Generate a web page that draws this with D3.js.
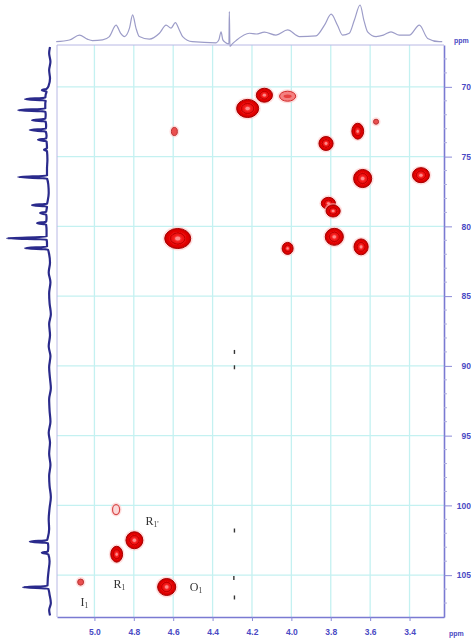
<!DOCTYPE html>
<html>
<head>
<meta charset="utf-8">
<script src="https://cdn.jsdelivr.net/npm/d3@7"></script>
<style>
  body { margin: 0; background: #fff; }
  svg { display: block; }
</style>
</head>
<body>
<div id="my_dataviz"><svg></svg></div>
<script>
// tick values
var xTicks = [5.0, 4.8, 4.6, 4.4, 4.2, 4.0, 3.8, 3.6, 3.4]
var yTicks = [70, 75, 80, 85, 90, 95, 100, 105]

// cross peaks: 1H ppm, 13C ppm, half widths (ppm), relative intensity
var peakH  = [4.594, 4.222, 4.137, 4.019, 3.824, 3.663, 3.570, 3.638, 3.342, 3.812, 3.788, 4.577, 4.019, 3.782, 3.646, 4.890, 4.797, 4.887, 5.070, 4.633]
var peakC  = [73.2, 71.55, 70.6, 70.67, 74.06, 73.18, 72.5, 76.57, 76.33, 78.35, 78.9, 80.87, 81.58, 80.75, 81.47, 100.3, 102.5, 103.5, 105.5, 105.85]
var peakWH = [0.015, 0.056, 0.041, 0.041, 0.036, 0.030, 0.013, 0.046, 0.043, 0.036, 0.036, 0.066, 0.028, 0.046, 0.036, 0.018, 0.043, 0.030, 0.015, 0.046]
var peakWC = [0.29, 0.65, 0.50, 0.36, 0.50, 0.57, 0.18, 0.65, 0.54, 0.43, 0.43, 0.72, 0.43, 0.61, 0.57, 0.36, 0.61, 0.57, 0.22, 0.61]
var peakI  = [0.25, 1.0, 0.85, 0.45, 0.8, 0.8, 0.2, 1.0, 0.9, 0.85, 0.85, 1.0, 0.75, 1.0, 0.9, 0.3, 1.0, 0.85, 0.25, 1.0]

// anomeric labels
var labelText = ["R", "R", "O", "I"]
var labelSub  = ["1'", "1", "1", "1"]
var labelH    = [4.707, 4.873, 4.484, 5.051]
var labelC    = [101.1, 105.6, 105.85, 106.9]

// t1 noise streak near 4.29 ppm
var streakH = [4.289, 4.289, 4.289, 4.292, 4.289]
var streakC = [89.0, 90.1, 101.8, 105.2, 106.6]

// 1H projection (top): ppm, intensity
var protonPpm = [5.194, 5.127, 5.076, 5.036, 5.010, 4.959, 4.924, 4.890, 4.868, 4.848, 4.822, 4.806, 4.789, 4.772, 4.721,
  4.670, 4.636, 4.611, 4.589, 4.569, 4.552, 4.503, 4.382, 4.368, 4.357, 4.348, 4.335, 4.317, 4.315, 4.312, 4.300, 4.281,
  4.213, 4.178, 4.137, 4.078, 4.019, 3.959, 3.875, 3.832, 3.798, 3.766, 3.740, 3.706, 3.680, 3.651, 3.632, 3.613, 3.570,
  3.533, 3.494, 3.452, 3.401, 3.350, 3.308, 3.249, 3.234]
var protonInt = [0, 4.6, 18, 7, 3, 5, 14, 45, 24, 14, 37, 73, 37, 14, 7,
  23, 45, 37, 52, 32, 14, 0, -3, 5, 27, 5, -2, -6, 82, -13, -6, 3,
  23, 21, 26, 18, 32, 14, 16, 45, 75, 45, 18, 23, 59, 100, 59, 27, 14,
  18, 27, 18, 18, 45, 9, 0, 0]

// 13C projection (left): ppm, intensity
var carbonPpm = [67.15, 67.6, 68.2, 68.8, 69.4, 69.9, 70.14, 70.24, 70.34, 70.55, 70.78, 70.88, 70.98, 71.2, 71.57, 71.67, 71.77,
  72.0, 72.29, 72.39, 72.49, 72.8, 73.0, 73.1, 73.2, 73.5, 73.7, 73.8, 73.9, 74.4, 74.5, 74.6, 75.2, 75.9, 76.37, 76.47, 76.57,
  77.0, 77.6, 78.1, 78.38, 78.48, 78.58, 78.8, 78.95, 79.05, 79.15, 79.4, 79.67, 79.77, 79.87, 80.3, 80.75, 80.85, 80.95, 81.2,
  81.46, 81.56, 81.66, 82.0, 82.6, 83.3, 84.0, 84.8, 85.5, 86.3, 87.0, 87.8, 88.6, 89.3, 90.1, 90.9, 91.6, 92.4, 93.2, 94.0,
  94.8, 95.5, 96.3, 97.1, 97.9, 98.6, 99.4, 100.2, 101.0, 101.7, 102.3, 102.5, 102.6, 102.7, 103.0, 103.3, 103.4, 103.5, 104.0,
  104.6, 105.2, 105.77, 105.87, 105.97, 106.4, 107.0, 107.5, 107.9]
var carbonInt = [0, 2, -1, 2, 0, 3, 8, 19, 8, 10, 11, 58, 10, 11, 11, 74, 11,
  10, 11, 42, 10, 9, 10, 47, 10, 8, 9, 28, 8, 7, 14, 7, 6, 7, 7, 74, 7,
  4, 3, 5, 7, 42, 7, 8, 9, 23, 9, 8, 9, 30, 9, 8, 8, 100, 8, 7,
  7, 58, 5, 2, 0, 3, -1, 2, 1, -2, 2, 0, 3, -1, 2, 0, -2, 2, 1, -1,
  3, 0, 2, -1, 2, 1, -2, 1, 3, 2, 5, 7, 47, 5, 4, 5, 19, 4, 1,
  3, 5, 6, 63, 4, 1, -2, 2, 0]

var svg = d3.select("#my_dataviz").select("svg")
    .attr("width", 471)
    .attr("height", 641)

var plotLeft = 57, plotRight = 444, plotTop = 45, plotBottom = 617

var x = d3.scaleLinear().domain([5.19, 3.225]).range([plotLeft, plotRight])
var y = d3.scaleLinear().domain([67, 108]).range([plotTop, plotBottom])

var defs = svg.append("defs")
defs.append("filter").attr("id", "soft")
    .attr("x", "-20%").attr("y", "-20%").attr("width", "140%").attr("height", "140%")
    .append("feGaussianBlur").attr("stdDeviation", 0.6)
defs.append("filter").attr("id", "soft2")
    .append("feGaussianBlur").attr("stdDeviation", 0.35)

var grad = defs.append("radialGradient").attr("id", "peakFill")
grad.append("stop").attr("offset", "0%").attr("stop-color", "#ff6a6a")
grad.append("stop").attr("offset", "35%").attr("stop-color", "#f41818")
grad.append("stop").attr("offset", "80%").attr("stop-color", "#e00000")
grad.append("stop").attr("offset", "100%").attr("stop-color", "#c40000")

// grid
var grid = svg.append("g")
grid.selectAll(".vgrid")
    .data(xTicks)
    .enter()
    .append("line")
    .attr("x1", function (d) { return x(d) })
    .attr("x2", function (d) { return x(d) })
    .attr("y1", plotTop)
    .attr("y2", plotBottom)
    .attr("stroke", "#c4f1f1")
    .attr("stroke-width", 1.3)
grid.selectAll(".hgrid")
    .data(yTicks)
    .enter()
    .append("line")
    .attr("x1", plotLeft)
    .attr("x2", plotRight)
    .attr("y1", function (d) { return y(d) })
    .attr("y2", function (d) { return y(d) })
    .attr("stroke", "#c4f1f1")
    .attr("stroke-width", 1.3)

// frame
svg.append("line").attr("x1", plotLeft).attr("x2", plotRight).attr("y1", plotTop).attr("y2", plotTop)
    .attr("stroke", "#b8b8e4").attr("stroke-width", 1)
svg.append("line").attr("x1", plotLeft).attr("x2", plotLeft).attr("y1", plotTop).attr("y2", plotBottom)
    .attr("stroke", "#b8b8e4").attr("stroke-width", 1)

// axes
var xAxis = svg.append("g")
    .attr("transform", "translate(0," + plotBottom + ")")
    .call(d3.axisBottom(x).tickValues(xTicks).tickFormat(d3.format(".1f"))
        .tickSize(4).tickSizeOuter(0).tickPadding(8))
var yAxis = svg.append("g")
    .attr("transform", "translate(" + plotRight + ",0)")
    .call(d3.axisRight(y).tickValues(yTicks).tickSize(8).tickSizeOuter(0))

// minor ticks on the 13C axis
yAxis.selectAll(".minor")
    .data(d3.range(68, 108, 1).filter(function (d) { return d % 5 != 0 }))
    .enter()
    .append("line")
    .attr("x1", 0).attr("x2", 3)
    .attr("y1", function (d) { return y(d) })
    .attr("y2", function (d) { return y(d) })
    .attr("stroke", "#b0b0e0")

;[xAxis, yAxis].forEach(function (a) {
    a.select(".domain").attr("stroke", "#7a7ad2").attr("stroke-width", 1.6)
    a.selectAll(".tick line").attr("stroke", "#8a8ad8")
    a.selectAll("text")
        .attr("fill", "#4a4ac4")
        .style("font-family", "Liberation Sans, Arial, sans-serif")
        .style("font-size", "8.5px")
        .style("font-weight", "bold")
})
yAxis.selectAll(".tick text")
    .attr("x", 27)
    .attr("text-anchor", "end")

svg.append("text")
    .attr("x", 449).attr("y", 636)
    .attr("fill", "#4a4ac4")
    .style("font-family", "Liberation Sans, Arial, sans-serif")
    .style("font-size", "7px").style("font-weight", "bold")
    .text("ppm")
svg.append("text")
    .attr("x", 454).attr("y", 43)
    .attr("fill", "#4a4ac4")
    .style("font-family", "Liberation Sans, Arial, sans-serif")
    .style("font-size", "7px").style("font-weight", "bold")
    .text("ppm")

// 1H projection
var topY = d3.scaleLinear().domain([0, 100]).range([41.7, 5])
var protonLine = d3.line()
    .x(function (d, i) { return x(protonPpm[i]) })
    .y(function (d, i) { return topY(protonInt[i]) })
    .curve(d3.curveMonotoneX)
svg.append("path")
    .attr("d", protonLine(protonPpm))
    .attr("fill", "none")
    .attr("stroke", "#9c9cc8")
    .attr("stroke-width", 1.2)
    .attr("filter", "url(#soft2)")

// 13C projection
var leftX = d3.scaleLinear().domain([0, 100]).range([50, 7])
var carbonLine = d3.line()
    .x(function (d, i) { return leftX(carbonInt[i]) })
    .y(function (d, i) { return y(carbonPpm[i]) })
    .curve(d3.curveMonotoneY)
svg.append("path")
    .attr("d", carbonLine(carbonPpm))
    .attr("fill", "none")
    .attr("stroke", "#2c2c8c")
    .attr("stroke-width", 2.2)
    .attr("filter", "url(#soft2)")

// t1 streak marks
svg.selectAll(".streak")
    .data(streakH)
    .enter()
    .append("line")
    .attr("x1", function (d) { return x(d) })
    .attr("x2", function (d) { return x(d) })
    .attr("y1", function (d, i) { return y(streakC[i]) - 2 })
    .attr("y2", function (d, i) { return y(streakC[i]) + 2 })
    .attr("stroke", "#333")
    .attr("stroke-width", 1.4)

// cross peaks
var peaks = svg.append("g").attr("filter", "url(#soft)")
peakH.forEach(function (h, i) {
    var cx = x(h), cy = y(peakC[i])
    var rx = x(h - peakWH[i]) - cx
    var ry = y(peakC[i] + peakWC[i]) - cy
    var g = peaks.append("g")
    g.append("ellipse")
        .attr("cx", cx).attr("cy", cy)
        .attr("rx", rx + 2).attr("ry", ry + 2)
        .attr("fill", "#ffc4c4").attr("opacity", 0.55)
    if (peakI[i] >= 0.7) {
        g.append("ellipse")
            .attr("cx", cx).attr("cy", cy).attr("rx", rx).attr("ry", ry)
            .attr("fill", "url(#peakFill)")
            .attr("stroke", "#a80000").attr("stroke-width", 1)
        g.append("ellipse")
            .attr("cx", cx).attr("cy", cy).attr("rx", rx * 0.55).attr("ry", ry * 0.55)
            .attr("fill", "none")
            .attr("stroke", "#b40000").attr("stroke-width", 0.8)
        g.append("ellipse")
            .attr("cx", cx).attr("cy", cy).attr("rx", rx * 0.2).attr("ry", ry * 0.2)
            .attr("fill", "#ff8a8a")
    } else if (peakI[i] >= 0.4) {
        g.append("ellipse")
            .attr("cx", cx).attr("cy", cy).attr("rx", rx).attr("ry", ry)
            .attr("fill", "#f48080")
            .attr("stroke", "#d02828").attr("stroke-width", 1)
        g.append("ellipse")
            .attr("cx", cx).attr("cy", cy).attr("rx", rx * 0.5).attr("ry", ry * 0.35)
            .attr("fill", "#e84040")
    } else if (peakI[i] >= 0.28) {
        // weak, open contour
        g.append("ellipse")
            .attr("cx", cx).attr("cy", cy).attr("rx", rx).attr("ry", ry)
            .attr("fill", "#fbd8d8")
            .attr("stroke", "#d84848").attr("stroke-width", 1.2)
    } else {
        g.append("ellipse")
            .attr("cx", cx).attr("cy", cy).attr("rx", rx).attr("ry", ry)
            .attr("fill", "#ea5050")
            .attr("stroke", "#b83030").attr("stroke-width", 1)
    }
})

// labels
labelText.forEach(function (t, i) {
    var txt = svg.append("text")
        .attr("x", x(labelH[i]))
        .attr("y", y(labelC[i]) + 4)
        .attr("text-anchor", "middle")
        .attr("fill", "#333")
        .style("font-family", "Liberation Serif, Times New Roman, serif")
        .style("font-size", "12px")
    txt.append("tspan").text(t)
    txt.append("tspan")
        .attr("dy", 2)
        .style("font-size", "7.5px")
        .text(labelSub[i])
})
</script>
</body>
</html>
